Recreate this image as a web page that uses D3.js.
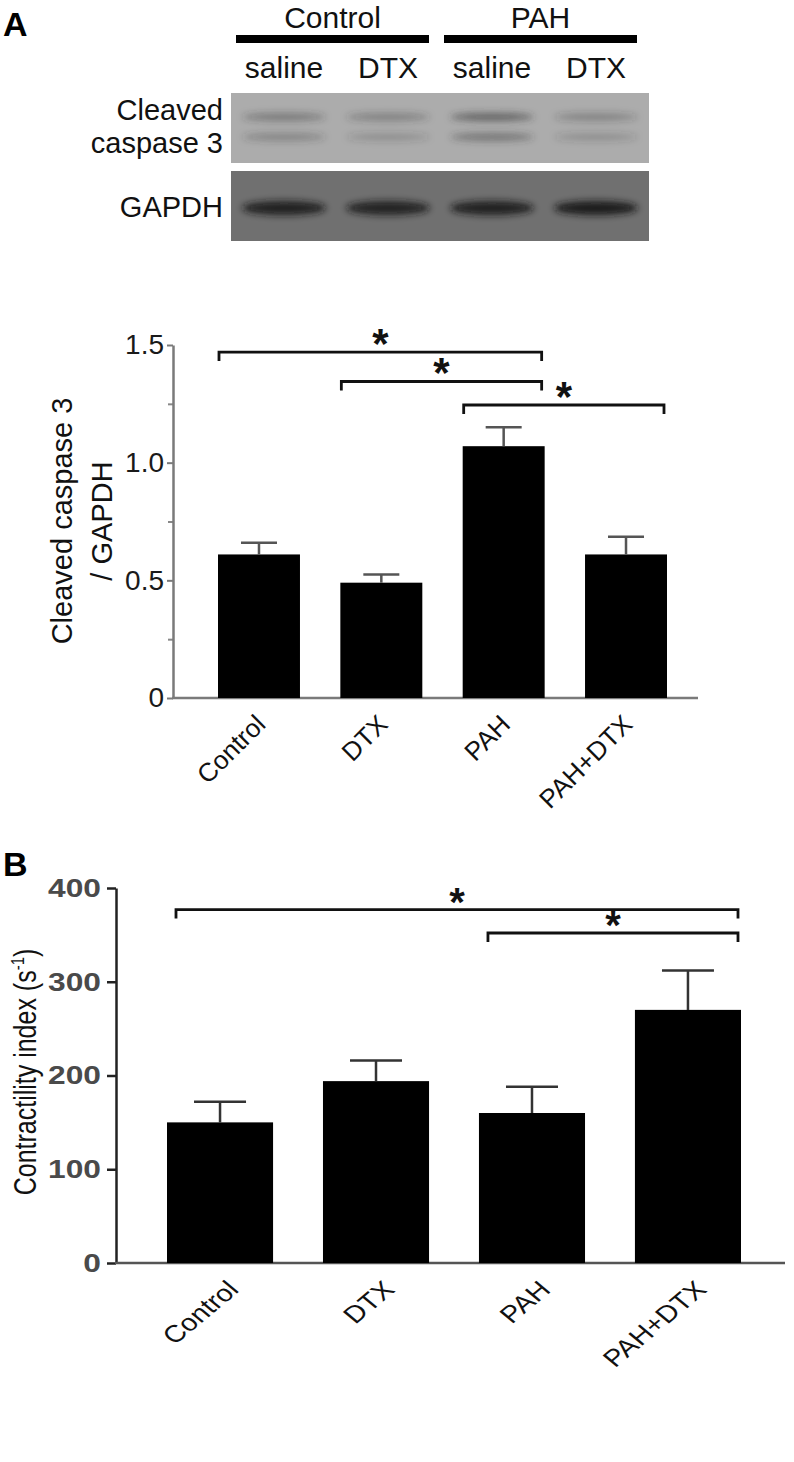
<!DOCTYPE html>
<html><head><meta charset="utf-8">
<script src="https://cdn.jsdelivr.net/npm/d3@7"></script>
<style>body{margin:0;background:#fff} svg{display:block} text{font-family:"Liberation Sans",Arial,Helvetica,sans-serif}</style>
</head><body><svg id="c" width="794" height="1462"></svg>
<script>
// ---------- Western blot data ----------
const lanes = ["saline", "DTX", "saline", "DTX"];
const groups = ["Control", "PAH"];
const casUpper = [0.4, 0.35, 0.6, 0.3];
const casLower = [0.32, 0.22, 0.45, 0.22];
const gapdhBand = [0.9, 0.88, 0.9, 0.95];

// ---------- Panel A data ----------
const categories = ["Control", "DTX", "PAH", "PAH+DTX"];
const caspaseMean = [0.61, 0.49, 1.07, 0.61];
const caspaseErr = [0.05, 0.035, 0.08, 0.075];
const caspaseTicks = [0, 0.5, 1.0, 1.5];
const caspaseTickLabels = ["0", "0.5", "1.0", "1.5"];
const caspaseMinor = [0.25, 0.75, 1.25];
const caspaseSig = [["Control", "PAH", 1.47], ["DTX", "PAH", 1.345], ["PAH", "PAH+DTX", 1.245]];

// ---------- Panel B data ----------
const contractMean = [150, 194, 160, 270];
const contractErr = [22, 22, 28, 42];
const contractTicks = [0, 100, 200, 300, 400];
const contractSig = [["Control", "PAH+DTX", 377], ["PAH", "PAH+DTX", 352]];

const svg = d3.select("#c");
const defs = svg.append("defs");
defs.append("filter").attr("id", "blur").attr("x", "-30%").attr("y", "-150%").attr("width", "160%").attr("height", "400%")
  .append("feGaussianBlur").attr("stdDeviation", 3.5);
defs.append("filter").attr("id", "soft")
  .append("feGaussianBlur").attr("stdDeviation", 0.6);

// ================= Panel A : blot =================
svg.append("text").text("A").attr("x", 3).attr("y", 36).attr("font-size", 34).attr("font-weight", "bold");

const laneX = d3.scaleBand().domain(d3.range(lanes.length)).range([232, 648]);
const lbw = laneX.bandwidth();

groups.forEach((g, i) => {
  const x0 = laneX(2 * i) + 4, x1 = laneX(2 * i + 1) + lbw - 11;
  svg.append("rect").attr("x", x0).attr("y", 35).attr("width", x1 - x0).attr("height", 8).attr("fill", "#000");
  svg.append("text").text(g).attr("x", (x0 + x1) / 2).attr("y", 28).attr("text-anchor", "middle")
    .attr("font-size", 30).attr("fill", "#111");
});
svg.selectAll(".lane").data(lanes).join("text").attr("class", "lane")
  .attr("x", (d, i) => laneX(i) + lbw / 2).attr("y", 78).attr("text-anchor", "middle")
  .attr("font-size", 30).attr("fill", "#111").text(d => d);

// blot 1
svg.append("rect").attr("x", 231).attr("y", 93).attr("width", 418).attr("height", 70).attr("fill", "#acacac").attr("filter", "url(#soft)");
const gB = svg.append("g").attr("filter", "url(#blur)");
gB.selectAll(".up").data(casUpper).join("ellipse")
  .attr("cx", (d, i) => laneX(i) + lbw / 2).attr("cy", 117).attr("rx", 42).attr("ry", 4)
  .attr("fill", "#333").attr("opacity", d => d);
gB.selectAll(".lo").data(casLower).join("ellipse")
  .attr("cx", (d, i) => laneX(i) + lbw / 2).attr("cy", 137).attr("rx", 42).attr("ry", 4)
  .attr("fill", "#333").attr("opacity", d => d);
// blot 2
svg.append("rect").attr("x", 231).attr("y", 171).attr("width", 418).attr("height", 70).attr("fill", "#707070").attr("filter", "url(#soft)");
const gG = svg.append("g").attr("filter", "url(#blur)");
gG.selectAll("ellipse").data(gapdhBand).join("ellipse")
  .attr("cx", (d, i) => laneX(i) + lbw / 2).attr("cy", 208).attr("rx", 42).attr("ry", 7)
  .attr("fill", "#151515").attr("opacity", d => d);

svg.append("text").text("Cleaved").attr("x", 223).attr("y", 120).attr("text-anchor", "end").attr("font-size", 29).attr("fill", "#111");
svg.append("text").text("caspase 3").attr("x", 223).attr("y", 153).attr("text-anchor", "end").attr("font-size", 29).attr("fill", "#111");
svg.append("text").text("GAPDH").attr("x", 223).attr("y", 217).attr("text-anchor", "end").attr("font-size", 29).attr("fill", "#111");

// ================= Panel A : bar chart =================
const yA = d3.scaleLinear().domain([0, 1.5]).range([698, 345]);
const xA = d3.scaleBand().domain(categories).range([218, 667]).paddingInner(0.33).paddingOuter(0);
const gA = svg.append("g");

gA.append("g").attr("transform", "translate(173,0)")
  .call(d3.axisLeft(yA).tickValues(caspaseMinor).tickSize(5).tickSizeOuter(0).tickFormat(""))
  .call(g => g.select(".domain").remove())
  .call(g => g.selectAll("line").attr("stroke", "#888").attr("stroke-width", 2));
const axA = gA.append("g").attr("transform", "translate(173,0)")
  .call(d3.axisLeft(yA).tickValues(caspaseTicks).tickFormat((d, i) => caspaseTickLabels[i]).tickSize(6).tickPadding(3).tickSizeOuter(0));
axA.select(".domain").attr("stroke", "#7a7a7a").attr("stroke-width", 2.5);
axA.selectAll(".tick line").attr("stroke", "#7a7a7a").attr("stroke-width", 2);
axA.selectAll("text").attr("font-size", 28).attr("fill", "#1a1a1a").attr("font-family", '"Liberation Sans",Arial,sans-serif');

gA.append("line").attr("x1", 172).attr("x2", 698).attr("y1", yA(0)).attr("y2", yA(0)).attr("stroke", "#7a7a7a").attr("stroke-width", 2.5);

gA.selectAll(".bar").data(categories).join("rect").attr("class", "bar")
  .attr("x", d => xA(d)).attr("y", (d, i) => yA(caspaseMean[i]))
  .attr("width", xA.bandwidth()).attr("height", (d, i) => yA(0) - yA(caspaseMean[i])).attr("fill", "#000");
gA.selectAll(".eb").data(categories).join("path").attr("class", "eb")
  .attr("d", (d, i) => {
    const cx = xA(d) + xA.bandwidth() / 2, y0 = yA(caspaseMean[i]), y1 = yA(caspaseMean[i] + caspaseErr[i]);
    return `M${cx},${y0}V${y1}M${cx - 18},${y1}H${cx + 18}`;
  }).attr("stroke", "#555").attr("stroke-width", 2.5).attr("fill", "none");

caspaseSig.forEach(([a, b, v]) => {
  const x1 = xA(a) + 1, x2 = xA(b) + xA.bandwidth() - 3, y = yA(v);
  gA.append("path").attr("d", `M${x1},${y + 9}V${y}H${x2}V${y + 9}`).attr("stroke", "#111").attr("stroke-width", 2.8).attr("fill", "none");
  gA.append("text").text("*").attr("x", (x1 + x2) / 2).attr("y", y + 6).attr("text-anchor", "middle")
    .attr("font-size", 42).attr("font-weight", "bold").attr("fill", "#111");
});

gA.selectAll(".xl").data(categories).join("text").attr("class", "xl")
  .attr("transform", d => `translate(${xA(d) + xA.bandwidth() / 2 + 8},${yA(0) + 28}) rotate(-45)`)
  .attr("text-anchor", "end").attr("font-size", 26).attr("fill", "#111").text(d => d);

const ylA = gA.append("text").attr("transform", `translate(72,521) rotate(-90)`).attr("text-anchor", "middle").attr("font-size", 29).attr("fill", "#111");
ylA.append("tspan").attr("x", 0).attr("y", 0).text("Cleaved caspase 3");
ylA.append("tspan").attr("x", 0).attr("y", 40).text("/ GAPDH");

// ================= Panel B =================
svg.append("text").text("B").attr("x", 3).attr("y", 876).attr("font-size", 34).attr("font-weight", "bold");
const yB = d3.scaleLinear().domain([0, 400]).range([1263, 888]);
const xB = d3.scaleBand().domain(categories).range([167, 741]).paddingInner(0.32).paddingOuter(0);
const gBp = svg.append("g");
const axB = gBp.append("g").attr("transform", "translate(116,0)")
  .call(d3.axisLeft(yB).tickValues(contractTicks).tickSize(9).tickPadding(6).tickSizeOuter(0));
axB.select(".domain").attr("stroke", "#222").attr("stroke-width", 2.5);
axB.selectAll(".tick line").attr("stroke", "#222").attr("stroke-width", 2.5);
axB.selectAll("text").attr("font-size", 26).attr("fill", "#4a4a4a").attr("font-weight", "bold")
  .attr("font-family", '"Liberation Sans",Arial,sans-serif')
  .attr("x", -15 / 1.22).attr("transform", "scale(1.22,1)");
gBp.append("line").attr("x1", 115).attr("x2", 785).attr("y1", yB(0)).attr("y2", yB(0)).attr("stroke", "#555").attr("stroke-width", 2.5);

gBp.selectAll(".bar").data(categories).join("rect").attr("class", "bar")
  .attr("x", d => xB(d)).attr("y", (d, i) => yB(contractMean[i]))
  .attr("width", xB.bandwidth()).attr("height", (d, i) => yB(0) - yB(contractMean[i])).attr("fill", "#000");
gBp.selectAll(".eb").data(categories).join("path").attr("class", "eb")
  .attr("d", (d, i) => {
    const cx = xB(d) + xB.bandwidth() / 2, y0 = yB(contractMean[i]), y1 = yB(contractMean[i] + contractErr[i]);
    return `M${cx},${y0}V${y1}M${cx - 26},${y1}H${cx + 26}`;
  }).attr("stroke", "#333").attr("stroke-width", 2.5).attr("fill", "none");

contractSig.forEach(([a, b, v]) => {
  const x1 = xB(a) + 9, x2 = xB(b) + xB.bandwidth() - 3, y = yB(v);
  gBp.append("path").attr("d", `M${x1},${y + 9}V${y}H${x2}V${y + 9}`).attr("stroke", "#111").attr("stroke-width", 2.8).attr("fill", "none");
  gBp.append("text").text("*").attr("x", (x1 + x2) / 2).attr("y", y + 6).attr("text-anchor", "middle")
    .attr("font-size", 40).attr("font-weight", "bold").attr("fill", "#111");
});

gBp.selectAll(".xl").data(categories).join("text").attr("class", "xl")
  .attr("transform", d => `translate(${xB(d) + xB.bandwidth() / 2 + 20},${yB(0) + 28}) scale(1.2,1) rotate(-45)`)
  .attr("text-anchor", "end").attr("font-size", 24).attr("fill", "#111").text(d => d);

const ylB = gBp.append("text").attr("transform", `translate(36,1072) scale(1.25,1) rotate(-90)`).attr("text-anchor", "middle").attr("font-size", 25).attr("fill", "#111");
ylB.append("tspan").text("Contractility index (s");
ylB.append("tspan").attr("font-size", 15).attr("dy", -10).text("-1");
ylB.append("tspan").attr("dy", 10).text(")");
</script></body></html>
